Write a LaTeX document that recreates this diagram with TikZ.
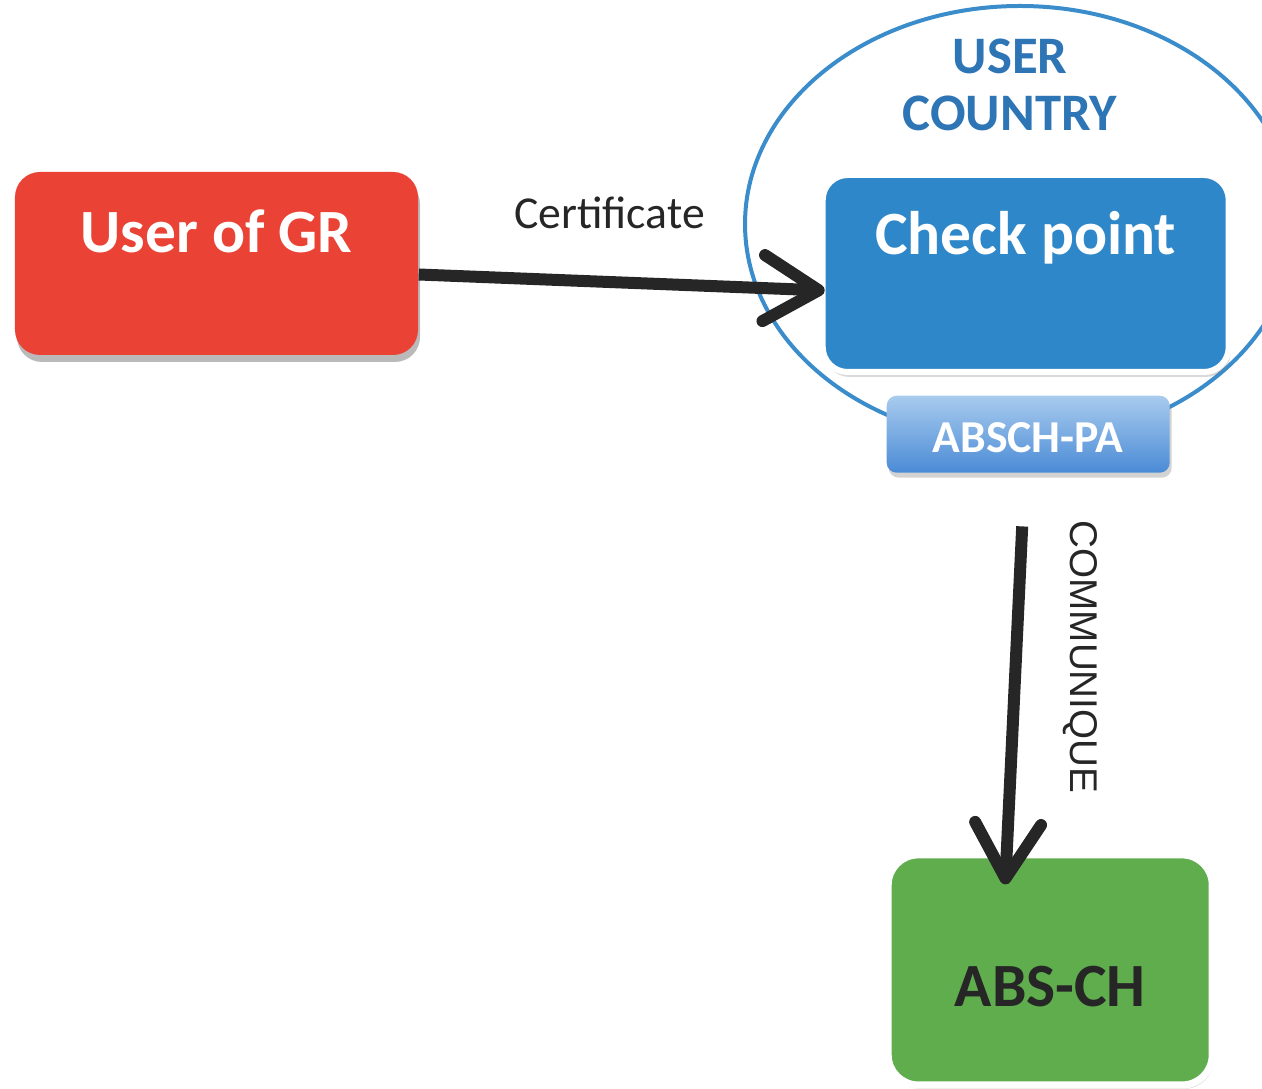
\documentclass[tikz,border=0pt]{standalone}
\usepackage{fontspec}
\setmainfont{Carlito}
\newfontfamily\commfont{Liberation Sans}
\usetikzlibrary{positioning,shapes.geometric,shadows,arrows.meta}

\definecolor{grRed}{HTML}{EA4335}
\definecolor{cpBlue}{HTML}{2E87C8}
\definecolor{ctryLine}{HTML}{3B8CCB}
\definecolor{ctryText}{HTML}{2E75B6}
\definecolor{abGreen}{HTML}{60AD4E}
\definecolor{abText}{HTML}{262626}
\definecolor{paTop}{HTML}{A9CBEE}
\definecolor{paBot}{HTML}{4A8BD6}
\definecolor{flowGray}{HTML}{262626}

\begin{document}
\begin{tikzpicture}[
every node/.style={},
box/.style={rectangle, inner sep=0pt, align=center, font=\bfseries\fontsize{17.5}{20}\selectfont},
userbox/.style={box, fill=grRed, text=white, rounded corners=0.25cm, minimum width=4.03cm, minimum height=1.83cm, text height=0.81cm, text depth=1.02cm, drop shadow={shadow xshift=0.02cm, shadow yshift=-0.07cm, opacity=0.45, fill=black!60}},
checkbox/.style={box, fill=cpBlue, text=white, draw=white, line width=0.06cm, rounded corners=0.25cm, minimum width=4.06cm, minimum height=1.97cm, text height=0.80cm, text depth=1.17cm, drop shadow={shadow xshift=0.02cm, shadow yshift=-0.05cm, opacity=0.3, fill=black!50}},
pabox/.style={box, top color=paTop, bottom color=paBot, text=white, rounded corners=0.1cm, minimum width=2.83cm, minimum height=0.77cm, text height=0.57cm, text depth=0.20cm, font=\bfseries\fontsize{13}{15}\selectfont, drop shadow={shadow xshift=0.02cm, shadow yshift=-0.05cm, opacity=0.35, fill=black!50}},
absbox/.style={box, fill=abGreen, text=abText, draw=white, line width=0.07cm, rounded corners=0.3cm, minimum width=3.24cm, minimum height=2.30cm, text height=1.52cm, text depth=0.78cm, font=\bfseries\fontsize{17.5}{20}\selectfont, drop shadow={shadow xshift=0.02cm, shadow yshift=-0.04cm, opacity=0.25, fill=black!40}},
country/.style={ellipse, draw=ctryLine, line width=0.04cm, minimum width=5.5cm, minimum height=4.36cm, inner sep=0pt},
countrytext/.style={align=center, text=ctryText, font=\bfseries\fontsize{15}{16.2}\selectfont, inner sep=0pt},
flow/.style={draw=flowGray, line width=0.12cm, -{Straight Barb[length=0.55cm, width=0.66cm, line cap=round, line join=round]}},
flowlabel/.style={inner sep=0pt, text=black!85, font=\fontsize{13}{15}\selectfont}
]
\useasboundingbox (0,0) rectangle (12.62,10.88);

\node [country] (ctry) at (10.20,8.64) {};
\node [countrytext] (ctrylabel) at (10.10,10.03) {USER\\COUNTRY};

\node [userbox] (user) at (2.165,8.245) {User of GR};
\node [checkbox] (check) [right=4.01cm of user, yshift=-0.1cm] {Check point};
\node [pabox] (pa) [below=0.2cm of check, xshift=0.025cm] {ABSCH-PA};
\node [absbox] (abs) [below=3.78cm of pa, xshift=0.22cm] {ABS-CH};

\draw [flow] ([yshift=-0.11cm]user.east) -- ([xshift=0.05cm, yshift=-0.17cm]check.west)
  node [flowlabel, pos=0.47, above=0.47cm] (cert) {Certificate};
\draw [flow] ([xshift=-0.06cm, yshift=-0.53cm]pa.south) -- ([xshift=-0.45cm, yshift=-0.33cm]abs.north);
\node [flowlabel, rotate=-90, font=\commfont\fontsize{11}{13}\selectfont] (comm) at (10.80,4.31) {COMMUNIQUE};

\end{tikzpicture}
\end{document}
